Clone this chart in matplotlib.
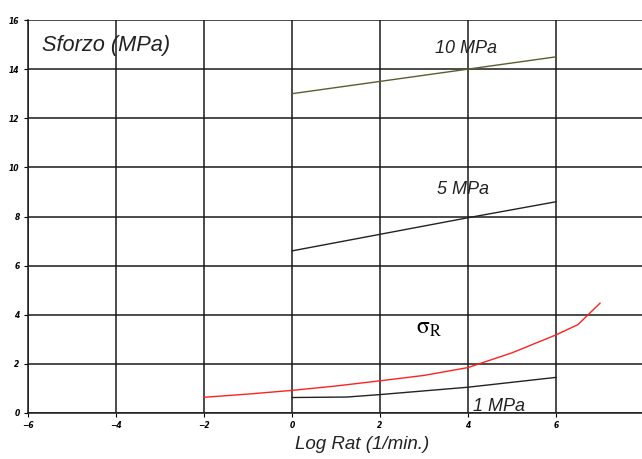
import numpy as np
import matplotlib.pyplot as plt

plt.rcParams['mathtext.fontset'] = 'stix'

# curves
x_10 = [0, 4, 6]
y_10 = [13.0, 14.0, 14.5]

x_5 = [0, 4, 6]
y_5 = [6.6, 7.95, 8.6]

x_1 = [0, 1.25, 2, 4, 6]
y_1 = [0.63, 0.65, 0.75, 1.05, 1.45]

x_r = [-2, -1, 0, 1, 2, 3, 4, 5, 6, 6.5, 7]
y_r = [0.64, 0.77, 0.92, 1.1, 1.31, 1.53, 1.85, 2.45, 3.18, 3.6, 4.47]

xticks = [-6, -4, -2, 0, 2, 4, 6, 8]
yticks = [0, 2, 4, 6, 8, 10, 12, 14, 16]

sans = 'Liberation Sans'

fig = plt.figure(figsize=(6.42, 4.59), dpi=100)
ax = fig.add_axes([28 / 642, 46 / 459, 616 / 642, 393 / 459])

ax.set_xlim(-6, 8)
ax.set_ylim(0, 16)
ax.set_xticks(xticks)
ax.set_yticks(yticks)
ax.tick_params(labelsize=5.5, length=3, width=0.8, pad=3)
for lab in ax.get_xticklabels() + ax.get_yticklabels():
    lab.set_fontweight('bold')
    lab.set_fontstyle('italic')
ax.grid(True, color='#1a1a1a', linewidth=1.1)
for s in ['top', 'right']:
    ax.spines[s].set_visible(False)
for s in ['left', 'bottom']:
    ax.spines[s].set_color('#1a1a1a')
    ax.spines[s].set_linewidth(1.1)

ax.plot(x_10, y_10, color='#5c5c2e', lw=1, zorder=3)
ax.plot(x_5, y_5, color='#222222', lw=1, zorder=3)
ax.plot(x_1, y_1, color='#222222', lw=1, zorder=3)
ax.plot(x_r, y_r, color='#ff2020', lw=1, zorder=3)

ax.text(-5.68, 14.96, 'Sforzo (MPa)', fontsize=15.7, family=sans, style='italic',
        color='#222222', va='center')
ax.text(3.95, 14.84, '10 MPa', fontsize=13, family=sans, style='italic',
        ha='center', va='center', color='#222222')
ax.text(3.88, 9.08, '5 MPa', fontsize=13, family=sans, style='italic',
        ha='center', va='center', color='#222222')
ax.text(4.7, 0.27, '1 MPa', fontsize=13, family=sans, style='italic',
        ha='center', va='center', color='#222222')
ax.text(2.82, 3.22, r'$\mathrm{\sigma}_{\mathrm{R}}$', fontsize=17,
        ha='left', va='baseline')

fig.text(362 / 642, 6 / 459, 'Log Rat (1/min.)', fontsize=13.5, family=sans,
         style='italic', ha='center', va='bottom', color='#222222')

fig.savefig('out.png', dpi=100)
